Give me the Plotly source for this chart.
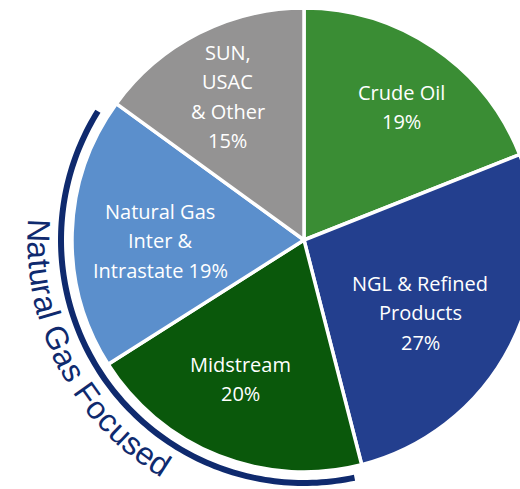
import math
import plotly.graph_objects as go

# ---- data ----
segments = ["Crude Oil", "NGL & Refined Products", "Midstream",
            "Natural Gas Inter & Intrastate", "SUN, USAC & Other"]
label_lines = [["Crude Oil"], ["NGL & Refined", "Products"], ["Midstream"],
               ["Natural Gas", "Inter &", "Intrastate"], ["SUN,", "USAC", "& Other"]]
share_pct = [19, 27, 20, 19, 15]
bracket_title = "Natural Gas Focused"

# ---- style ----
colors = ["#3a8d34", "#233f8e", "#0a580b", "#5b8fcc", "#949393"]
W, H = 540, 489
ML, MR, MT, MB = 72, 4, 8, 17
PW, PH = W - ML - MR, H - MT - MB
CX, CY = ML + PW / 2, MT + PH / 2
R = min(PW, PH) / 2
LINE_H = 29.5


def paper(px, py):
    return (px - ML) / PW, 1 - (py - MT) / PH


def polar(theta_deg, r):
    t = math.radians(theta_deg)
    return CX + r * math.sin(t), CY - r * math.cos(t)


fig = go.Figure(go.Pie(
    labels=segments, values=share_pct, sort=False, direction="clockwise",
    rotation=0, textinfo="none", hoverinfo="label+percent",
    marker=dict(colors=colors, line=dict(color="white", width=3.5)),
    showlegend=False, domain=dict(x=[0, 1], y=[0, 1]),
))

annotations = []
# slice labels placed from the slice mid-angles
label_r = [0.71, 0.59, 0.66, 0.62, 0.70]
label_dt = [2, 5, 3, -2, -1]
total = sum(share_pct)
cum = 0
for lines, v, lr, dt in zip(label_lines, share_pct, label_r, label_dt):
    mid = (cum + v / 2) / total * 360
    cum += v
    lines = list(lines)
    if lines[-1] == "Intrastate":
        lines[-1] = f"Intrastate {v}%"
    else:
        lines.append(f"{v}%")
    px, py = polar(mid + dt, lr * R)
    n = len(lines)
    for i, ln in enumerate(lines):
        x, y = paper(px, py + (i - (n - 1) / 2) * LINE_H)
        annotations.append(dict(x=x, y=y, xref="paper", yref="paper", text=ln,
                                showarrow=False, xanchor="center", yanchor="middle",
                                font=dict(family="Open Sans", size=20, color="white")))

# curved title along the bracket arc
adv = {"N": .722, "a": .556, "t": .278, "u": .556, "r": .333, "l": .222,
       " ": .278, "G": .778, "s": .5, "F": .611, "o": .556, "c": .5,
       "e": .556, "d": .556}
fs = 32
r_txt = 266
r_adv = 272
theta0 = 274.5
s = 0.0
for ch in bracket_title:
    w = adv.get(ch, .55) * fs
    th = theta0 - math.degrees((s + w / 2) / r_adv)
    s += w
    if ch == " ":
        continue
    px, py = polar(th, r_txt)
    x, y = paper(px, py)
    annotations.append(dict(x=x, y=y, xref="paper", yref="paper", text=ch,
                            showarrow=False, xanchor="center", yanchor="middle",
                            textangle=th - 180,
                            font=dict(family="Liberation Sans", size=fs, color="#0f2a6e")))

# bracket arc
pts = []
n = 120
for i in range(n + 1):
    th = 168 + (302 - 168) * i / n
    pts.append(paper(*polar(th, 243)))
path = "M " + " L ".join(f"{x:.5f},{y:.5f}" for x, y in pts)
fig.add_shape(type="path", path=path, xref="paper", yref="paper",
              line=dict(color="#0f2a6e", width=6))

fig.update_layout(width=W, height=H, margin=dict(l=ML, r=MR, t=MT, b=MB),
                  paper_bgcolor="white", plot_bgcolor="white",
                  annotations=annotations, showlegend=False)

fig.write_html("out.html", config={"displayModeBar": False},
               post_script="document.documentElement.style.overflow='hidden';"
                           "document.body.style.overflow='hidden';"
                           "document.body.style.margin='0';")
